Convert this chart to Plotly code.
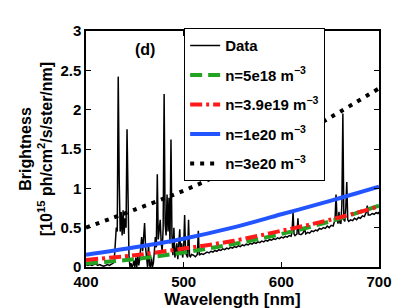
import plotly.graph_objects as go

# ---------------- data ----------------
wavelength = [400, 402, 404, 406, 408, 410, 412, 414, 416, 418, 420, 422, 424, 426, 428, 429,
              430, 431, 432, 433, 434, 435, 436, 437, 438, 439, 440, 441, 442, 443, 444, 445,
              446, 447, 448, 449, 450, 451, 452, 453, 454, 455, 456, 457, 458, 459, 460, 461,
              462, 463, 464, 465, 466, 467, 468, 469, 470, 471, 472, 473, 474, 475, 476, 477,
              478, 479, 480, 481, 482, 483, 484, 485, 486, 487, 488, 489, 490, 491, 492, 493,
              494, 495, 496, 497, 498, 499, 500, 501, 502, 503, 504, 505, 506, 507, 508, 510,
              512, 514, 515, 516, 518, 520, 522, 524, 526, 528, 530, 532, 534, 536, 538, 540,
              542, 544, 546, 548, 550, 552, 554, 556, 558, 560, 562, 564, 566, 568, 570, 572,
              574, 576, 578, 580, 582, 584, 586, 588, 590, 592, 594, 596, 598, 600, 602, 604,
              606, 608, 610, 611, 612, 613, 614, 616, 617, 618, 620, 622, 624, 625, 627, 629,
              631, 633, 635, 637, 639, 641, 643, 645, 647, 649, 651, 653, 655, 656, 657, 658,
              659, 660, 661, 662, 663, 664, 665, 666, 667, 668, 669, 671, 673, 675, 677, 679,
              681, 683, 685, 687, 688, 689, 691, 693, 695, 697, 699, 700]
brightness = [0.03, 0.02, 0.03, 0.02, 0.03, 0.04, 0.02, 0.03, 0.02, 0.01, 0.02, 0.03, 0.02, 0.04, 0.05, 0.10,
              0.30, 0.50, 0.45, 2.42, 1.10, 0.45, 0.70, 0.40, 0.72, 0.42, 0.62, 0.50, 1.75, 0.50, 0.15, 0.00,
              0.05, 0.00, 0.02, 0.08, 0.00, 0.12, 0.00, 0.15, 0.02, 0.10, 0.30, 0.38, 0.20, 0.45, 0.56, 0.25,
              0.05, 0.00, 0.30, 0.02, 0.00, 0.12, 0.00, 0.05, 0.20, 0.38, 0.25, 1.18, 0.35, 0.55, 0.60, 0.30,
              0.20, 0.50, 2.20, 0.55, 0.40, 0.92, 0.45, 0.88, 0.30, 1.62, 0.40, 0.15, 0.50, 0.12, 0.20, 0.30,
              0.10, 0.25, 0.48, 0.15, 0.30, 0.12, 0.25, 0.66, 0.18, 0.15, 0.12, 0.60, 0.14, 0.13, 0.16, 0.15,
              0.13, 0.16, 0.46, 0.15, 0.17, 0.16, 0.17, 0.19, 0.18, 0.20, 0.19, 0.21, 0.20, 0.22, 0.21, 0.23,
              0.22, 0.24, 0.23, 0.25, 0.24, 0.26, 0.25, 0.27, 0.26, 0.28, 0.27, 0.29, 0.28, 0.30, 0.29, 0.31,
              0.30, 0.32, 0.31, 0.33, 0.32, 0.34, 0.33, 0.35, 0.34, 0.36, 0.35, 0.37, 0.36, 0.38, 0.37, 0.39,
              0.38, 0.40, 0.39, 0.45, 0.70, 0.42, 0.40, 0.42, 0.62, 0.42, 0.41, 0.43, 0.48, 0.42, 0.44, 0.43,
              0.46, 0.45, 0.47, 0.46, 0.49, 0.48, 0.50, 0.49, 0.52, 0.50, 0.53, 0.52, 0.60, 0.92, 0.62, 0.55,
              0.70, 0.56, 0.55, 0.80, 1.95, 0.60, 0.58, 0.75, 1.08, 0.60, 0.58, 0.60, 0.59, 0.62, 0.60, 0.63,
              0.62, 0.65, 0.64, 0.70, 0.78, 0.66, 0.66, 0.68, 0.67, 0.69, 0.68, 0.70]

model_wavelength = [400, 450, 500, 550, 600, 650, 700]
model_n5e18 = [0.045, 0.10, 0.185, 0.29, 0.42, 0.58, 0.78]
model_n3p9e19 = [0.09, 0.15, 0.235, 0.33, 0.46, 0.60, 0.77]
model_n1e20 = [0.155, 0.25, 0.36, 0.50, 0.67, 0.84, 1.02]
model_n3e20 = [0.50, 0.73, 0.97, 1.25, 1.55, 1.90, 2.27]

x_ticks = [400, 500, 600, 700]
y_ticks = [0, 0.5, 1, 1.5, 2, 2.5, 3]
y_tick_labels = ["0", "0.5", "1", "1.5", "2", "2.5", "3"]

# ---------------- figure ----------------
FONT = dict(family="Liberation Sans, Arial, sans-serif", color="black", weight="bold")

fig = go.Figure()
fig.add_trace(go.Scatter(x=wavelength, y=brightness, mode="lines", name="Data",
                         legendgroup="a",
                         line=dict(color="black", width=1.5)))
fig.add_trace(go.Scatter(x=model_wavelength, y=model_n5e18, mode="lines",
                         name="n=5e18 m<sup>−3</sup>", legendgroup="b",
                         line=dict(color="#22a322", width=4, dash="12px,6px", shape="spline")))
fig.add_trace(go.Scatter(x=model_wavelength, y=model_n3p9e19, mode="lines",
                         name="n=3.9e19 m<sup>−3</sup>", legendgroup="c",
                         line=dict(color="#ff1a1a", width=4, dash="12px,4px,3px,4px", shape="spline")))
fig.add_trace(go.Scatter(x=model_wavelength, y=model_n1e20, mode="lines",
                         name="n=1e20 m<sup>−3</sup>", legendgroup="d",
                         line=dict(color="#2255ff", width=4, shape="spline")))
fig.add_trace(go.Scatter(x=model_wavelength, y=model_n3e20, mode="lines",
                         name="n=3e20 m<sup>−3</sup>", legendgroup="e",
                         line=dict(color="black", width=4, dash="4px,6px", shape="spline")))

fig.add_annotation(x=460, y=2.76, text="(d)", showarrow=False,
                   font=dict(size=16, **FONT))

axis_common = dict(showline=True, linecolor="black", linewidth=1.5, mirror="ticks",
                   ticks="inside", ticklen=5, tickwidth=1, tickcolor="black",
                   showgrid=False, zeroline=False,
                   tickfont=dict(size=15, **FONT))

fig.update_xaxes(range=[400, 700], tickvals=x_ticks,
                 title=dict(text="Wavelength [nm]", font=dict(size=17, **FONT), standoff=2),
                 **axis_common)
fig.update_yaxes(range=[0, 3], tickvals=y_ticks, ticktext=y_tick_labels,
                 title=dict(text="Brightness<br>[10<sup>15</sup> ph/cm<sup>2</sup>/s/ster/nm]",
                            font=dict(size=16, **FONT), standoff=4),
                 **axis_common)

fig.update_layout(
    width=410, height=308,
    margin=dict(l=78, r=39, t=23, b=41),
    paper_bgcolor="white", plot_bgcolor="white",
    showlegend=True,
    legend=dict(x=0.335, y=1.012, xanchor="left", yanchor="top",
                bgcolor="white", bordercolor="black", borderwidth=1,
                font=dict(size=15, **FONT), tracegroupgap=7,
                itemwidth=30),
)

fig.write_html("out.html")
